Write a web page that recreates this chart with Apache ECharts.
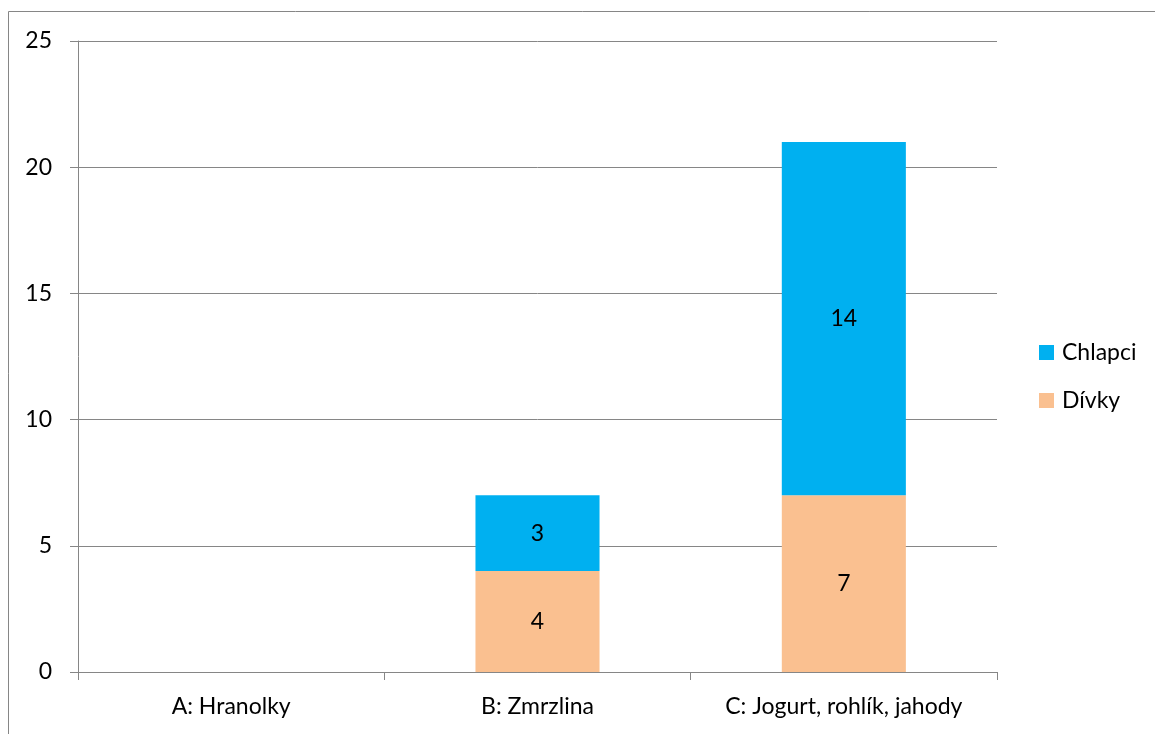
<!DOCTYPE html>
<html>
<head>
<meta charset="utf-8">
<script src="https://cdn.jsdelivr.net/npm/echarts@6/dist/echarts.min.js"></script>
<style>
  html, body { margin: 0; padding: 0; background: #fff; }
  #chart { width: 1155px; height: 734px; }
</style>
</head>
<body>
<div id="chart"></div>
<script>
// Odpovědi žáků podle kategorie jídla
const categories = ['A: Hranolky', 'B: Zmrzlina', 'C: Jogurt, rohlík, jahody'];
const divky = [null, 4, 7];
const chlapci = [null, 3, 14];
const yTicks = { min: 0, max: 25, step: 5 };

const FONT = 'Lato, "Open Sans", sans-serif';
const FONT_SIZE = 23;
const AXIS_GREY = '#868686';

const chart = echarts.init(document.getElementById('chart'), null, { renderer: 'canvas' });

const barLabel = {
  show: true,
  position: 'inside',
  color: '#000',
  fontFamily: FONT,
  fontSize: FONT_SIZE
};

chart.setOption({
  animation: false,
  backgroundColor: '#fff',
  textStyle: { fontFamily: FONT },
  graphic: [{
    type: 'rect',
    shape: { x: 8.5, y: 11.5, width: 1300, height: 900 },
    style: { fill: 'none', stroke: AXIS_GREY, lineWidth: 1 },
    silent: true
  }],
  grid: { left: 78, right: 158, top: 41, bottom: 62 },
  legend: {
    orient: 'vertical',
    left: 1039,
    top: 341,
    padding: 0,
    itemWidth: 15,
    itemHeight: 15,
    itemGap: 25,
    icon: 'rect',
    textStyle: { fontFamily: FONT, fontSize: FONT_SIZE, lineHeight: 15, color: '#000', padding: [0, 0, 0, 3] },
    data: ['Chlapci', 'Dívky']
  },
  xAxis: {
    type: 'category',
    data: categories,
    boundaryGap: true,
    axisLine: { lineStyle: { color: AXIS_GREY, width: 1 } },
    axisTick: { show: true, interval: 0, length: 8, lineStyle: { color: AXIS_GREY } },
    axisLabel: { interval: 0, color: '#000', fontFamily: FONT, fontSize: FONT_SIZE, margin: 23 }
  },
  yAxis: {
    type: 'value',
    min: yTicks.min,
    max: yTicks.max,
    interval: yTicks.step,
    axisLine: { show: true, lineStyle: { color: AXIS_GREY, width: 1 } },
    axisTick: { show: true, length: 8, lineStyle: { color: AXIS_GREY } },
    splitLine: { show: true, lineStyle: { color: AXIS_GREY, width: 1 } },
    axisLabel: { color: '#000', fontFamily: FONT, fontSize: FONT_SIZE, margin: 26 }
  },
  series: [
    {
      name: 'Dívky',
      type: 'bar',
      stack: 'total',
      data: divky,
      barWidth: '40.5%',
      itemStyle: { color: '#FAC090' },
      label: barLabel
    },
    {
      name: 'Chlapci',
      type: 'bar',
      stack: 'total',
      data: chlapci,
      barWidth: '40.5%',
      itemStyle: { color: '#00B0F0' },
      label: barLabel
    }
  ]
});
</script>
</body>
</html>
